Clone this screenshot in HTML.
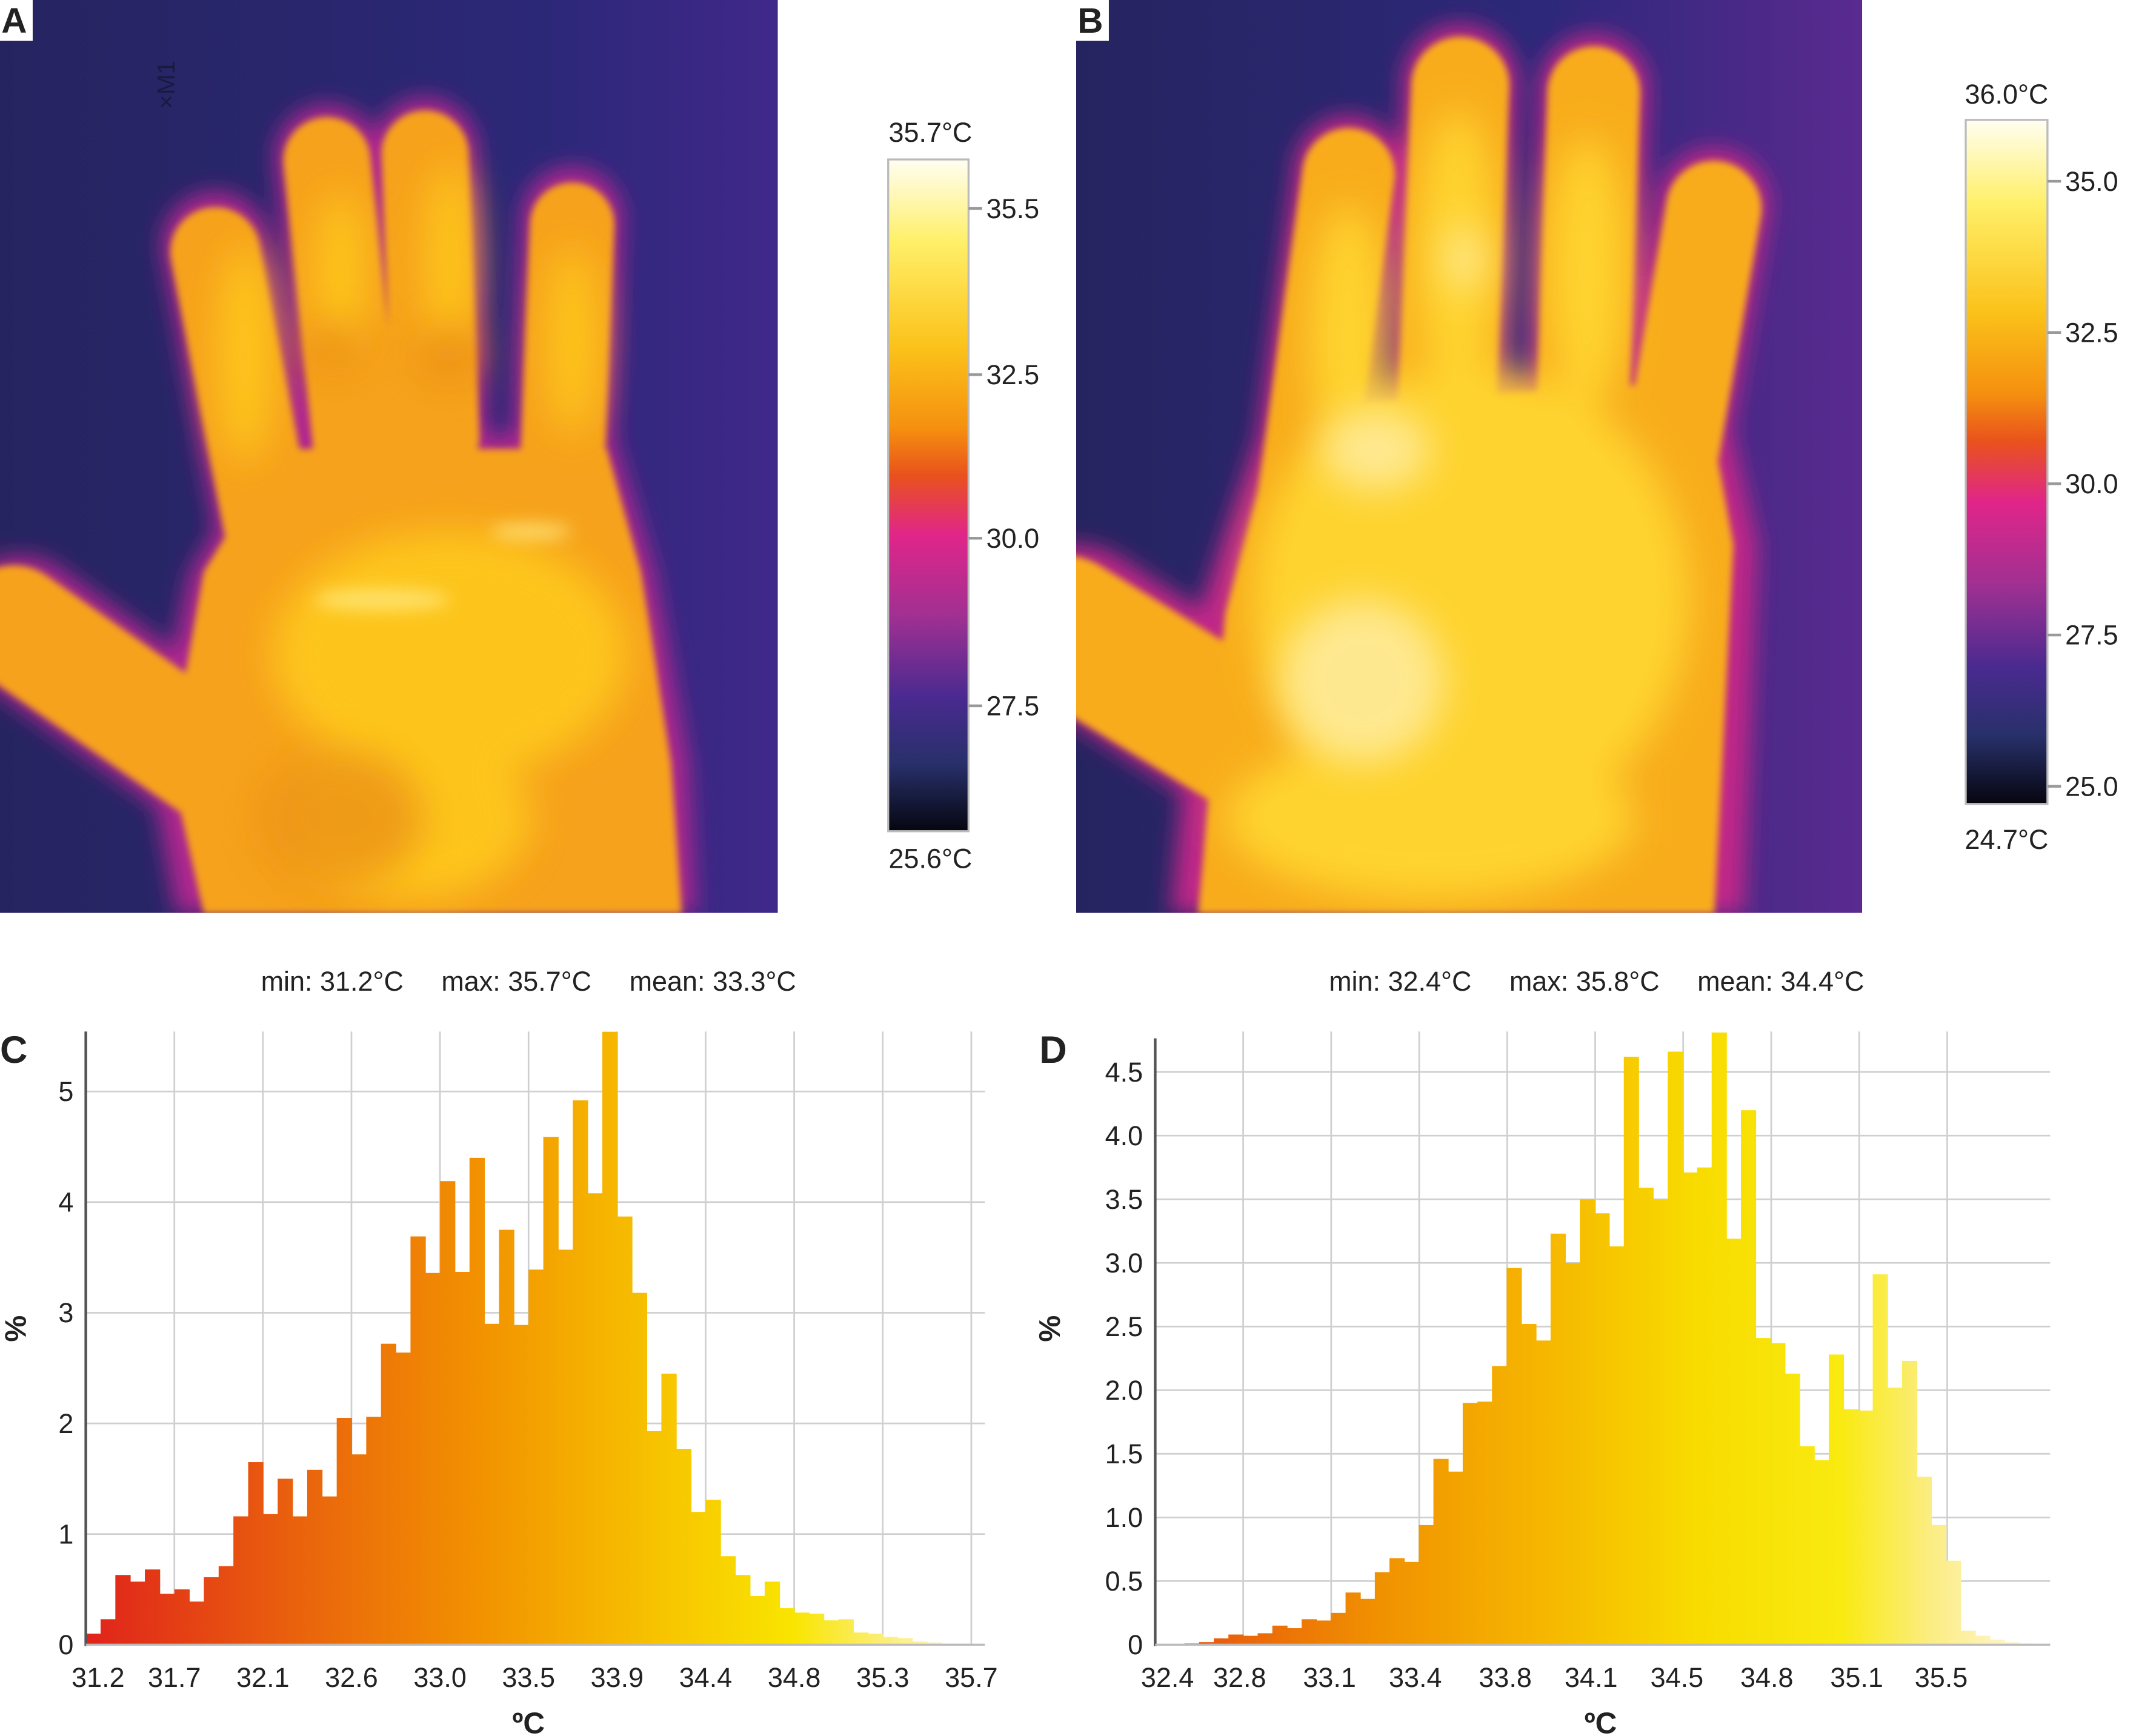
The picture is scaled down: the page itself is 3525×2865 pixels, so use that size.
<!DOCTYPE html>
<html><head><meta charset="utf-8"><style>
html,body{margin:0;padding:0;background:#fff;}
svg{display:block;}
text{font-family:"Liberation Sans",sans-serif;fill:#222;}
</style></head><body>
<svg id="fig" width="3525" height="2865" viewBox="0 0 1568 1274" preserveAspectRatio="none">
<defs>
<filter id="blur6" x="-20%" y="-20%" width="140%" height="140%"><feGaussianBlur stdDeviation="6"/></filter>
<filter id="blurH" x="-30%" y="-30%" width="160%" height="160%"><feGaussianBlur stdDeviation="8"/></filter>
<filter id="blur12" x="-30%" y="-30%" width="160%" height="160%"><feGaussianBlur stdDeviation="14"/></filter>
<filter id="blur3"><feGaussianBlur stdDeviation="2.5"/></filter>
<linearGradient id="cbar" x1="0" y1="0" x2="0" y2="1">
<stop offset="0" stop-color="#fffef2"/><stop offset="0.12" stop-color="#fff06a"/><stop offset="0.28" stop-color="#fbc21a"/>
<stop offset="0.4" stop-color="#f5900f"/><stop offset="0.47" stop-color="#e9521c"/><stop offset="0.56" stop-color="#e0258a"/>
<stop offset="0.68" stop-color="#a03092"/><stop offset="0.8" stop-color="#4a2a90"/><stop offset="0.9" stop-color="#28306a"/>
<stop offset="1" stop-color="#060610"/></linearGradient>
<linearGradient id="bgA" x1="0" y1="0" x2="1" y2="0"><stop offset="0" stop-color="#262460"/><stop offset="0.7" stop-color="#2c2878"/><stop offset="1" stop-color="#40288a"/></linearGradient>
<linearGradient id="bgB" x1="0" y1="0" x2="1" y2="0"><stop offset="0" stop-color="#262460"/><stop offset="0.6" stop-color="#2d287a"/><stop offset="1" stop-color="#5a2a90"/></linearGradient>
<linearGradient id="gC" x1="63" y1="0" x2="713" y2="0" gradientUnits="userSpaceOnUse">
<stop offset="0" stop-color="#e0231b"/><stop offset="0.25" stop-color="#ea650c"/><stop offset="0.45" stop-color="#f29300"/>
<stop offset="0.65" stop-color="#f7c400"/><stop offset="0.8" stop-color="#f9e500"/><stop offset="0.88" stop-color="#fbec60"/><stop offset="1" stop-color="#fff6e0"/></linearGradient>
<linearGradient id="gD" x1="848" y1="0" x2="1493" y2="0" gradientUnits="userSpaceOnUse">
<stop offset="0" stop-color="#e64a12"/><stop offset="0.25" stop-color="#f09000"/><stop offset="0.45" stop-color="#f6b800"/>
<stop offset="0.62" stop-color="#f8dc00"/><stop offset="0.78" stop-color="#f9ea10"/><stop offset="0.88" stop-color="#fbed80"/><stop offset="1" stop-color="#fff6e0"/></linearGradient>
<clipPath id="clipA"><rect x="0" y="0" width="571" height="670"/></clipPath>
<clipPath id="clipB"><rect x="790" y="0" width="577" height="670"/></clipPath>
</defs>

<g clip-path="url(#clipA)">
<rect x="0" y="0" width="571" height="670" fill="url(#bgA)"/>
<g filter="url(#blurH)" stroke="#b02890" fill="#b02890" stroke-linecap="round">
<line x1="158" y1="180" x2="200" y2="400" stroke-width="78"/><line x1="240" y1="115" x2="262" y2="330" stroke-width="76"/>
<line x1="312" y1="110" x2="320" y2="320" stroke-width="76"/><line x1="420" y1="160" x2="412" y2="360" stroke-width="74"/>
<line x1="15" y1="458" x2="170" y2="570" stroke-width="100"/>
<polygon points="140,420 200,320 450,320 480,420 505,560 510,670 130,670 110,560"/>
</g>
<g filter="url(#blur3)" stroke="#f6a21a" fill="#f6a21a" stroke-linecap="round">
<line x1="158" y1="185" x2="200" y2="400" stroke-width="66"/><line x1="240" y1="118" x2="262" y2="330" stroke-width="64"/>
<line x1="312" y1="113" x2="320" y2="320" stroke-width="64"/><line x1="420" y1="165" x2="412" y2="360" stroke-width="62"/>
<line x1="10" y1="458" x2="170" y2="570" stroke-width="86"/>
<polygon points="150,420 205,330 445,330 470,420 492,560 500,670 150,670 125,560"/>
</g>
<g filter="url(#blur12)" fill="#ffcc1a" opacity="0.85">
<ellipse cx="330" cy="480" rx="130" ry="90"/><ellipse cx="180" cy="260" rx="20" ry="80"/><ellipse cx="330" cy="190" rx="18" ry="70"/>
<ellipse cx="420" cy="250" rx="18" ry="70"/><ellipse cx="250" cy="200" rx="18" ry="60"/><ellipse cx="300" cy="600" rx="90" ry="60"/>
</g>
<g filter="url(#blur12)" fill="#e98a14" opacity="0.7"><ellipse cx="245" cy="255" rx="22" ry="18"/><ellipse cx="330" cy="260" rx="24" ry="20"/><ellipse cx="250" cy="600" rx="60" ry="50"/></g>
<g filter="url(#blur6)" fill="#ffee8a" opacity="0.7"><ellipse cx="280" cy="440" rx="50" ry="8"/><ellipse cx="390" cy="390" rx="30" ry="6"/></g>
<text x="100" y="88" font-size="18" style="fill:#1a1a40" transform="rotate(-90 110 70)">×M1</text>
</g>
<rect x="0" y="0" width="24" height="30" fill="#fff"/>
<text x="1" y="24" font-size="26" font-weight="bold">A</text>

<g>
<rect x="652" y="117" width="59" height="493" fill="url(#cbar)" stroke="#bbb" stroke-width="1.5"/>
<text x="683" y="104" font-size="20" text-anchor="middle">35.7°C</text>
<text x="683" y="637" font-size="20" text-anchor="middle">25.6°C</text>
<g stroke="#999" stroke-width="2"><line x1="711" y1="153" x2="721" y2="153"/><line x1="711" y1="275" x2="721" y2="275"/><line x1="711" y1="395" x2="721" y2="395"/><line x1="711" y1="518" x2="721" y2="518"/></g>
<g font-size="20"><text x="724" y="160">35.5</text><text x="724" y="282">32.5</text><text x="724" y="402">30.0</text><text x="724" y="525">27.5</text></g>
</g>

<g clip-path="url(#clipB)">
<rect x="790" y="0" width="577" height="670" fill="url(#bgB)"/>
<g filter="url(#blurH)" stroke="#c02888" fill="#c02888" stroke-linecap="round">
<line x1="990" y1="125" x2="955" y2="380" stroke-width="80"/><line x1="1072" y1="60" x2="1062" y2="300" stroke-width="84"/>
<line x1="1170" y1="65" x2="1162" y2="300" stroke-width="80"/><line x1="1258" y1="150" x2="1222" y2="360" stroke-width="82"/>
<line x1="790" y1="460" x2="960" y2="570" stroke-width="120"/>
<polygon points="930,300 1260,270 1290,400 1280,670 860,670 880,450"/>
</g>
<g filter="url(#blur3)" stroke="#f8ac1c" fill="#f8ac1c" stroke-linecap="round">
<line x1="990" y1="128" x2="955" y2="380" stroke-width="68"/><line x1="1072" y1="63" x2="1062" y2="300" stroke-width="72"/>
<line x1="1170" y1="68" x2="1162" y2="300" stroke-width="68"/><line x1="1258" y1="153" x2="1222" y2="360" stroke-width="70"/>
<line x1="780" y1="460" x2="960" y2="570" stroke-width="105"/>
<polygon points="940,300 1250,280 1272,400 1258,670 880,670 900,450"/>
</g>
<g filter="url(#blur12)" fill="#ffd830" opacity="0.9">
<ellipse cx="1080" cy="440" rx="160" ry="170"/><ellipse cx="990" cy="250" rx="28" ry="100"/><ellipse cx="1070" cy="190" rx="30" ry="110"/>
<ellipse cx="1165" cy="200" rx="28" ry="100"/><ellipse cx="1050" cy="600" rx="150" ry="60"/>
</g>
<g filter="url(#blur12)" fill="#fff0b0" opacity="0.75"><ellipse cx="1000" cy="500" rx="60" ry="60"/><ellipse cx="1010" cy="330" rx="40" ry="30"/><ellipse cx="1075" cy="190" rx="14" ry="25"/></g>
</g>
<rect x="790" y="0" width="24" height="30" fill="#fff"/>
<text x="791" y="24" font-size="26" font-weight="bold">B</text>

<g>
<rect x="1443" y="88" width="60" height="502" fill="url(#cbar)" stroke="#bbb" stroke-width="1.5"/>
<text x="1473" y="76" font-size="20" text-anchor="middle">36.0°C</text>
<text x="1473" y="623" font-size="20" text-anchor="middle">24.7°C</text>
<g stroke="#999" stroke-width="2"><line x1="1503" y1="133" x2="1513" y2="133"/><line x1="1503" y1="244" x2="1513" y2="244"/><line x1="1503" y1="355" x2="1513" y2="355"/><line x1="1503" y1="466" x2="1513" y2="466"/><line x1="1503" y1="577" x2="1513" y2="577"/></g>
<g font-size="20"><text x="1516" y="140">35.0</text><text x="1516" y="251">32.5</text><text x="1516" y="362">30.0</text><text x="1516" y="473">27.5</text><text x="1516" y="584">25.0</text></g>
</g>

<g id="chartC">
<text x="388" y="727" font-size="20" text-anchor="middle" xml:space="preserve">min: 31.2°C     max: 35.7°C     mean: 33.3°C</text>
<text x="0" y="780" font-size="28" font-weight="bold">C</text>
<text x="19" y="975" font-size="22" font-weight="bold" text-anchor="middle" transform="rotate(-90 19 975)">%</text>
<text x="388" y="1272" font-size="22" font-weight="bold" text-anchor="middle">ºC</text>
</g>
<g id="chartD">
<text x="1172" y="727" font-size="20" text-anchor="middle" xml:space="preserve">min: 32.4°C     max: 35.8°C     mean: 34.4°C</text>
<text x="763" y="780" font-size="28" font-weight="bold">D</text>
<text x="778" y="975" font-size="22" font-weight="bold" text-anchor="middle" transform="rotate(-90 778 975)">%</text>
<text x="1175" y="1272" font-size="22" font-weight="bold" text-anchor="middle">ºC</text>
</g>
</svg>
<script>
const valuesC = [0.10,0.23,0.63,0.57,0.68,0.46,0.50,0.39,0.61,0.71,1.16,1.65,1.18,1.50,1.16,1.58,1.34,2.05,1.72,2.06,2.72,2.64,3.69,3.36,4.19,3.37,4.40,2.90,3.75,2.89,3.39,4.59,3.57,4.92,4.08,5.54,3.87,3.18,1.93,2.45,1.77,1.20,1.31,0.80,0.63,0.44,0.57,0.33,0.29,0.28,0.22,0.23,0.11,0.10,0.07,0.06,0.03,0.02,0.01,0.01];
const xTicksC = ["31.2","31.7","32.1","32.6","33.0","33.5","33.9","34.4","34.8","35.3","35.7"];
const yTicksC = [0,1,2,3,4,5];
const valuesD = [0.00,0.00,0.01,0.02,0.05,0.08,0.07,0.09,0.15,0.13,0.20,0.19,0.25,0.41,0.36,0.57,0.68,0.65,0.94,1.46,1.36,1.90,1.91,2.19,2.96,2.52,2.39,3.23,3.00,3.50,3.39,3.13,4.62,3.59,3.50,4.66,3.71,3.75,4.81,3.19,4.20,2.41,2.37,2.13,1.56,1.45,2.28,1.85,1.84,2.91,2.02,2.23,1.32,0.94,0.66,0.11,0.07,0.04,0.02,0.01];
const xTicksD = ["32.4","32.8","33.1","33.4","33.8","34.1","34.5","34.8","35.1","35.5"];
const yTicksD = ["0","0.5","1.0","1.5","2.0","2.5","3.0","3.5","4.0","4.5"];

const NS = "http://www.w3.org/2000/svg";
function mk(parent, tag, attrs){const e=document.createElementNS(NS,tag);for(const k in attrs)e.setAttribute(k,attrs[k]);parent.appendChild(e);return e;}

function drawChart(g, cfg){
  const yScale = v => cfg.y0 - v*cfg.pxPerUnit;
  const xScale = i => cfg.x0 + i*cfg.barW;
  cfg.gridX.forEach((gx,i)=>{
    const l=mk(g,'line',{x1:gx,y1:cfg.top,x2:gx,y2:cfg.y0,stroke:'#cfcfcf','stroke-width':1.2});
    
    
  });
  cfg.yTicks.forEach(t=>{
    const y=yScale(parseFloat(t));
    if(parseFloat(t)>0){
      const l=mk(g,'line',{x1:cfg.x0,y1:y,x2:cfg.right,y2:y,stroke:'#cfcfcf','stroke-width':1.2});
      
      
    }
    const tx=mk(g,'text',{x:cfg.x0-9,y:y+7,'font-size':20,'text-anchor':'end'});
    tx.textContent=t;
    
    
  });
  cfg.values.forEach((v,i)=>{
    const y=yScale(v);
    const r=mk(g,'rect',{x:xScale(i),y:y,width:cfg.barW+0.4,height:cfg.y0-y,fill:cfg.fill});
    
    
  });
  const ax=mk(g,'line',{x1:cfg.x0,y1:cfg.axisTop,x2:cfg.x0,y2:cfg.y0+1,stroke:'#555','stroke-width':2});
  
  
  const bx=mk(g,'line',{x1:cfg.x0,y1:cfg.y0,x2:cfg.right,y2:cfg.y0,stroke:'#bbb','stroke-width':1.5});
  
  
  cfg.xTicks.forEach((t,i)=>{
    const tx=mk(g,'text',{x:cfg.labelX[i],y:cfg.y0+31,'font-size':20,'text-anchor':'middle'});
    tx.textContent=t;
    
    
  });
}
(function(){
  const gxC=[]; for(let i=1;i<=10;i++) gxC.push(63+i*65.0);
  const lxC=[]; for(let i=0;i<11;i++) lxC.push(i===0?72:63+i*65.0);
  drawChart(document.getElementById('chartC'),{values:valuesC,xTicks:xTicksC,yTicks:yTicksC.map(String),
    x0:63,y0:1207,pxPerUnit:81.2,barW:650/60,top:757,axisTop:757,right:723,gridX:gxC,labelX:lxC,fill:'url(#gC)'});
  const gxD=[]; for(let i=1;i<=9;i++) gxD.push(848+i*64.6);
  const lxD=[857,910,976,1039,1105,1168,1231,1297,1363,1425];
  drawChart(document.getElementById('chartD'),{values:valuesD,xTicks:xTicksD,yTicks:yTicksD,
    x0:848,y0:1207,pxPerUnit:93.4,barW:645/60,top:757,axisTop:762,right:1505,gridX:gxD,labelX:lxD,fill:'url(#gD)'});
})();
</script>
</body></html>
